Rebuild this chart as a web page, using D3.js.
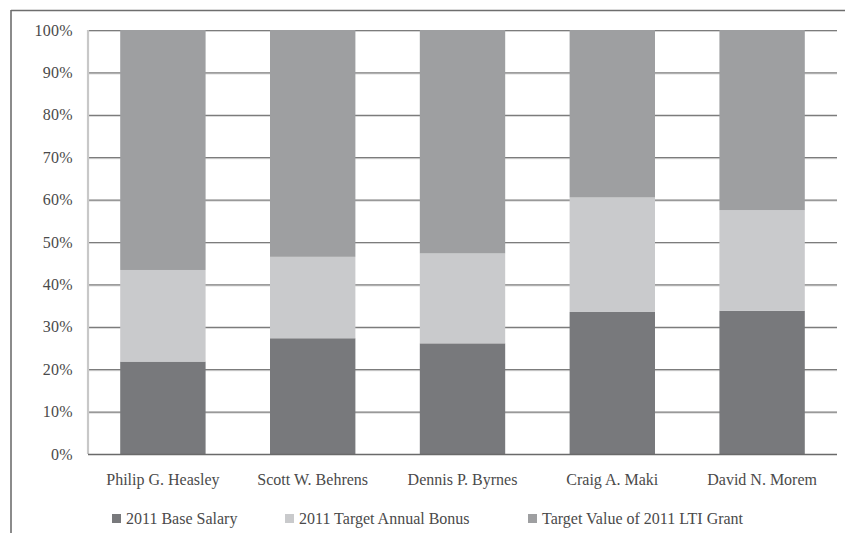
<!DOCTYPE html>
<html>
<head>
<meta charset="utf-8">
<script src="https://cdn.jsdelivr.net/npm/d3@7"></script>
<style>
  html, body { margin: 0; padding: 0; background: #fff; }
  svg { display: block; }
  text { font-family: "Liberation Serif", "Times New Roman", serif; fill: #4a4a4a; }
</style>
</head>
<body>
<svg id="chart" width="845" height="533"></svg>
<script>
// Executives on the x axis
const executives = ["Philip G. Heasley", "Scott W. Behrens", "Dennis P. Byrnes", "Craig A. Maki", "David N. Morem"];

// Share of total target pay (%) for each component
const baseSalary   = [21.8, 27.3, 26.1, 33.5, 33.8];
const targetBonus  = [21.6, 19.2, 21.2, 27.0, 23.7];
const ltiGrant     = [56.6, 53.5, 52.7, 39.5, 42.5];

const seriesNames  = ["2011 Base Salary", "2011 Target Annual Bonus", "Target Value of 2011 LTI Grant"];
const yTicks       = [0, 10, 20, 30, 40, 50, 60, 70, 80, 90, 100];

const colors = ["#78797c", "#c9cacc", "#9e9fa1"];
const keys = ["base", "bonus", "lti"];

const rows = executives.map((name, i) => ({
  name, base: baseSalary[i], bonus: targetBonus[i], lti: ltiGrant[i]
}));

const svg = d3.select("#chart");
const margin = { left: 88, right: 8, top: 30, bottom: 79 };
const W = 845, H = 533;

const x = d3.scaleBand()
  .domain(executives)
  .range([margin.left, W - margin.right])
  .paddingInner(0.43)
  .paddingOuter(0.215);

const y = d3.scaleLinear().domain([0, 100]).range([H - margin.bottom, margin.top]);

// Outer frame (top and left edges)
svg.append("line").attr("x1", 11).attr("x2", W).attr("y1", 10.5).attr("y2", 10.5)
  .attr("stroke", "#6e6e6e").attr("stroke-width", 1.6);
svg.append("line").attr("x1", 11).attr("x2", 11).attr("y1", 10).attr("y2", H)
  .attr("stroke", "#6e6e6e").attr("stroke-width", 1.6);

// Horizontal gridlines
const grid = svg.append("g");
yTicks.filter(t => t > 0).forEach(t => {
  grid.append("line")
    .attr("x1", margin.left).attr("x2", 837)
    .attr("y1", y(t) + 1.5).attr("y2", y(t) + 1.5)
    .attr("stroke", "#d4d4d4").attr("stroke-width", 1);
  grid.append("line")
    .attr("x1", margin.left).attr("x2", 837)
    .attr("y1", y(t) + 0.5).attr("y2", y(t) + 0.5)
    .attr("stroke", "#7c7c7c").attr("stroke-width", 1.2);
});

// Left axis line
svg.append("line")
  .attr("x1", margin.left).attr("x2", margin.left)
  .attr("y1", y(100)).attr("y2", y(0))
  .attr("stroke", "#c8c8c8").attr("stroke-width", 2.2);

// Stacked bars
const stack = d3.stack().keys(keys)(rows);
svg.append("g").selectAll("g")
  .data(stack)
  .join("g")
  .attr("fill", (d, i) => colors[i])
  .selectAll("rect")
  .data(d => d)
  .join("rect")
  .attr("x", d => x(d.data.name))
  .attr("width", x.bandwidth())
  .attr("y", d => y(d[1]))
  .attr("height", d => y(d[0]) - y(d[1]));

// Baseline
svg.append("line")
  .attr("x1", margin.left).attr("x2", 837)
  .attr("y1", y(0) + 0.5).attr("y2", y(0) + 0.5)
  .attr("stroke", "#6a6a6a").attr("stroke-width", 1.4);

// Y axis labels
const yAxis = d3.axisLeft(y)
  .tickValues(yTicks)
  .tickFormat(d => d + "%")
  .tickSize(0)
  .tickPadding(15);
const yg = svg.append("g").attr("transform", `translate(${margin.left},0)`).call(yAxis);
yg.select(".domain").remove();
yg.selectAll("text")
  .style("font-family", '"Liberation Serif", serif')
  .style("font-size", "16px")
  .style("letter-spacing", "0.3px")
  .attr("fill", "#4a4a4a");

// X axis labels
const xAxis = d3.axisBottom(x).tickSize(0).tickPadding(0);
const xg = svg.append("g").attr("transform", `translate(0,${y(0) + 20})`).call(xAxis);
xg.select(".domain").remove();
xg.selectAll("text")
  .attr("dy", "0.71em")
  .style("font-family", '"Liberation Serif", serif')
  .style("font-size", "16px")
  .attr("fill", "#4a4a4a");

// Legend
const legendX = [112, 285, 528];
const legend = svg.append("g");
seriesNames.forEach((name, i) => {
  legend.append("rect")
    .attr("x", legendX[i]).attr("y", 514)
    .attr("width", 9).attr("height", 9)
    .attr("fill", colors[i]);
  legend.append("text")
    .attr("x", legendX[i] + 14).attr("y", 524)
    .style("font-size", "16px")
    .text(name);
});
</script>
</body>
</html>
